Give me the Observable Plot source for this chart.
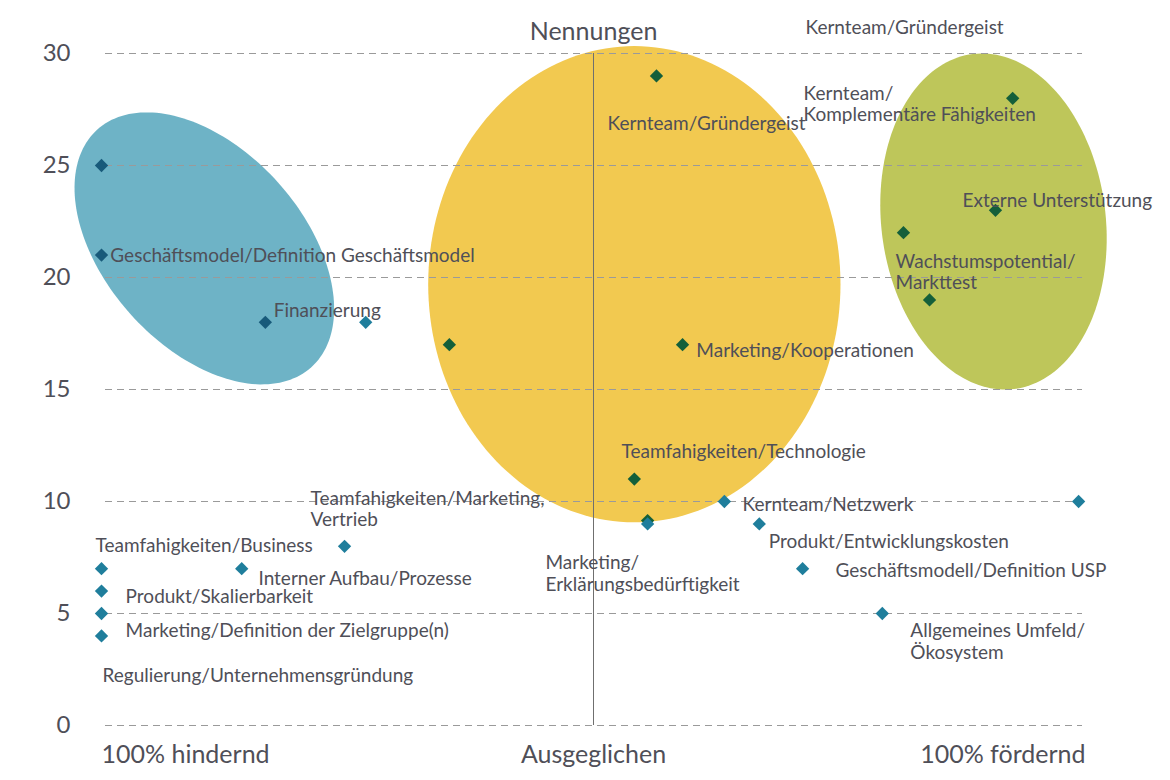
<!DOCTYPE html>
<html>
<head>
<meta charset="utf-8">
<script src="https://cdn.jsdelivr.net/npm/d3@7"></script>
<script src="https://cdn.jsdelivr.net/npm/@observablehq/plot@0.6"></script>
<style>
  html, body { margin: 0; padding: 0; background: #fff; }
  #chart { width: 1170px; height: 780px; }
  #chart svg { font-family: Lato, "Open Sans", sans-serif; }
</style>
</head>
<body>
<div id="chart"></div>
<script>
// ---- data ----
const yTicks = [0, 5, 10, 15, 20, 25, 30];
const xTickLabels = [
  {x: -100, label: "100% hindernd"},
  {x: 0, label: "Ausgeglichen"},
  {x: 100, label: "100% fördernd"}
];
const title = "Nennungen";

// points inside the blue (hindernd) cluster
const hinderndCluster = [
  {x: -100, y: 25}, {x: -100, y: 21}, {x: -66.7, y: 18}
];
// points inside the yellow (ausgeglichen) cluster
const ausgeglichenCluster = [
  {x: -29.3, y: 17}, {x: 12.8, y: 29}, {x: 18.1, y: 17}, {x: 8.3, y: 11}, {x: 11, y: 9.15}
];
// points inside the green (fördernd) cluster
const foerderndCluster = [
  {x: 85.2, y: 28}, {x: 81.7, y: 23}, {x: 63, y: 22}, {x: 68.3, y: 19}
];
// remaining single mentions
const weitere = [
  {x: -46.3, y: 18}, {x: -100, y: 7}, {x: -100, y: 6}, {x: -100, y: 5}, {x: -100, y: 4},
  {x: -71.5, y: 7}, {x: -50.6, y: 8}, {x: 11, y: 9}, {x: 26.6, y: 10}, {x: 33.7, y: 9},
  {x: 42.5, y: 7}, {x: 58.7, y: 5}, {x: 98.6, y: 10}
];

// labels (anchored at their own data position)
const labels = [
  {x: 43.1, y: 31.16, text: "Kernteam/Gründergeist"},
  {x: 2.85, y: 26.88, text: "Kernteam/Gründergeist"},
  {x: 42.7, y: 27.77, text: "Kernteam/\nKomplementäre Fähigkeiten"},
  {x: 75.0, y: 23.44, text: "Externe Unterstützung"},
  {x: 61.4, y: 20.27, text: "Wachstumspotential/\nMarkttest"},
  {x: -98.2, y: 20.98, text: "Geschäftsmodel/Definition Geschäftsmodel"},
  {x: -65.0, y: 18.53, text: "Finanzierung"},
  {x: 20.9, y: 16.74, text: "Marketing/Kooperationen"},
  {x: 5.7, y: 12.23, text: "Teamfahigkeiten/Technologie"},
  {x: -57.5, y: 9.69, text: "Teamfahigkeiten/Marketing,\nVertrieb"},
  {x: 30.3, y: 9.87, text: "Kernteam/Netzwerk"},
  {x: 35.6, y: 8.21, text: "Produkt/Entwicklungskosten"},
  {x: -101.2, y: 8.04, text: "Teamfahigkeiten/Business"},
  {x: 49.2, y: 6.92, text: "Geschäftsmodell/Definition USP"},
  {x: -68.1, y: 6.56, text: "Interner Aufbau/Prozesse"},
  {x: -9.76, y: 6.81, text: "Marketing/\nErklärungsbedürftigkeit"},
  {x: -95.1, y: 5.76, text: "Produkt/Skalierbarkeit"},
  {x: 64.4, y: 3.77, text: "Allgemeines Umfeld/\nÖkosystem"},
  {x: -95.1, y: 4.24, text: "Marketing/Definition der Zielgruppe(n)"},
  {x: -99.8, y: 2.23, text: "Regulierung/Unternehmensgründung"}
];

// cluster ellipses: center in data units, semi-axes in x-units, tilt in degrees (screen)
const clusters = [
  {name: "hindernd", cx: -79.1, cy: 21.3, major: 32.5, minor: 20.1, tilt: 48},
  {name: "ausgeglichen", cx: 8.3, cy: 19.7, major: 41.9, minor: 48.4, tilt: 0},
  {name: "foerdernd", cx: 81.3, cy: 22.5, major: 34.3, minor: 22.8, tilt: 83}
];
const clusterColors = {hindernd: "#6eb3c6", ausgeglichen: "#f2c950", foerdernd: "#bec65a"};

// ---- layout ----
const W = 1170, H = 780;
const M = {top: 53, right: 85, bottom: 55, left: 101};
const xDomain = [-100, 100], yDomain = [0, 30];
const kx = (W - M.left - M.right) / (xDomain[1] - xDomain[0]);
const ky = (H - M.top - M.bottom) / (yDomain[1] - yDomain[0]);

function ellipsePoints(c) {
  const th = c.tilt * Math.PI / 180;
  const pts = [];
  for (let i = 0; i < 180; i++) {
    const t = (i / 180) * 2 * Math.PI;
    const u = c.major * Math.cos(t), v = c.minor * Math.sin(t);
    const px = (u * Math.cos(th) - v * Math.sin(th)) * kx;
    const py = (u * Math.sin(th) + v * Math.cos(th)) * kx;
    pts.push({name: c.name, x: c.cx + px / kx, y: c.cy - py / ky});
  }
  return pts;
}

const textColor = "#4f4f58";

const marks = [];
for (const c of clusters) {
  marks.push(Plot.line(ellipsePoints(c), {x: "x", y: "y", fill: clusterColors[c.name], stroke: "none", curve: "linear-closed"}));
}
marks.push(
  Plot.ruleY(yTicks, {stroke: "#9a9a9a", strokeDasharray: "7,5", strokeWidth: 1, insetLeft: 4, insetRight: 3}),
  Plot.ruleX([0], {y1: 0, y2: 30, stroke: "#6f6f6f", strokeWidth: 1}),
  Plot.axisY({ticks: yTicks, tickSize: 0, tickPadding: 31, fontSize: 24, fill: textColor, label: null}),
  Plot.dot(hinderndCluster, {x: "x", y: "y", symbol: "diamond2", r: 6, fill: "#185a7a", stroke: "none"}),
  Plot.dot(ausgeglichenCluster, {x: "x", y: "y", symbol: "diamond2", r: 6, fill: "#145f3a", stroke: "none"}),
  Plot.dot(foerderndCluster, {x: "x", y: "y", symbol: "diamond2", r: 6, fill: "#145f3a", stroke: "none"}),
  Plot.dot(weitere, {x: "x", y: "y", symbol: "diamond2", r: 6, fill: "#1f7e9c", stroke: "none"}),
  Plot.text(labels, {x: "x", y: "y", text: "text", textAnchor: "start", lineAnchor: "middle", fontSize: 19, lineHeight: 1.13, fill: textColor}),
  Plot.text([xTickLabels[0]], {x: "x", y: 0, text: "label", textAnchor: "start", dy: 29, fontSize: 25, fill: textColor}),
  Plot.text([xTickLabels[1]], {x: "x", y: 0, text: "label", textAnchor: "middle", dy: 29, fontSize: 25, fill: textColor}),
  Plot.text([xTickLabels[2]], {x: "x", y: 0, text: "label", textAnchor: "end", dy: 29, fontSize: 25, fill: textColor}),
  Plot.text([title], {x: 0, y: 30, text: d => d, textAnchor: "middle", dy: -22, fontSize: 25, fill: textColor})
);

const chart = Plot.plot({
  width: W, height: H,
  marginTop: M.top, marginRight: M.right, marginBottom: M.bottom, marginLeft: M.left,
  x: {domain: xDomain, axis: null},
  y: {domain: yDomain, axis: null},
  style: {fontFamily: "Lato, 'Open Sans', sans-serif", background: "#fff"},
  marks
});
document.getElementById("chart").appendChild(chart);
</script>
</body>
</html>
